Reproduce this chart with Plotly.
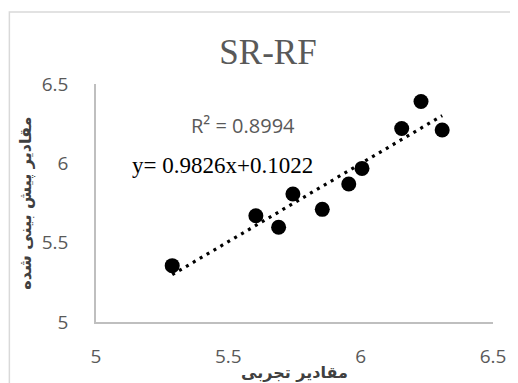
import plotly.graph_objects as go

# Data
observed = [5.288, 5.604, 5.690, 5.744, 5.855, 5.955, 6.005, 6.155, 6.228, 6.308]
predicted = [5.355, 5.670, 5.597, 5.807, 5.710, 5.870, 5.968, 6.220, 6.390, 6.210]
slope = 0.9826
intercept = 0.1022
r2_label = "R² = 0.8994"
eq_label = "y= 0.9826x+0.1022"
title_text = "SR-RF"
x_title = "مقادیر تجربی"
y_title = "مقادیر پیش بینی شده"
tick_vals = [5, 5.5, 6, 6.5]
tick_text = ["5", "5.5", "6", "6.5"]

trend_x = [min(observed), max(observed)]
trend_y = [slope * v + intercept for v in trend_x]

# page body has an 8px margin, so the figure is laid out 8px smaller
W, H = 510, 375
L, T, R, B = 88, 76, 21, 61
PW, PH = W - L - R, H - T - B  # 401 x 238


def px(xp):  # page x -> paper
    return (xp - 8 - L) / PW


def py(yp):  # page y -> paper
    return (H - B - (yp - 8)) / PH


fig = go.Figure()
fig.add_trace(go.Scatter(
    x=trend_x, y=trend_y, mode="lines",
    line=dict(color="black", width=3.2, dash="3px,5px"),
    hoverinfo="skip", showlegend=False,
))
fig.add_trace(go.Scatter(
    x=observed, y=predicted, mode="markers",
    marker=dict(color="black", size=15),
    showlegend=False,
))

axis_common = dict(
    range=[5, 6.5], tickvals=tick_vals, ticktext=tick_text,
    showgrid=False, zeroline=False, showline=True,
    linecolor="#bfbfbf", linewidth=1.5, ticks="",
    tickfont=dict(family="Open Sans, Liberation Sans, sans-serif", size=19, color="#595959"),
)
fig.update_xaxes(**axis_common, ticklabelstandoff=16)
fig.update_yaxes(**axis_common, ticklabelstandoff=22)

fig.update_layout(
    width=W, height=H,
    margin=dict(l=L, r=R, t=T, b=B),
    paper_bgcolor="white", plot_bgcolor="white",
    title=dict(text=title_text, x=(268 - 8) / W, xanchor="center", y=1 - (52 - 8) / H, yanchor="middle",
               font=dict(family="Liberation Serif, Times New Roman, serif", size=35, color="#595959")),
    shapes=[dict(type="rect", xref="paper", yref="paper", x0=px(8.5), x1=2,
                 y0=-1, y1=py(12), line=dict(color="#d9d9d9", width=1.5),
                 fillcolor="rgba(0,0,0,0)", layer="below")],
    annotations=[
        dict(text=r2_label, xref="paper", yref="paper", x=px(244), y=py(125),
             showarrow=False, xanchor="center", yanchor="middle",
             font=dict(family="Open Sans, Liberation Sans, sans-serif", size=20, color="#595959")),
        dict(text=eq_label, xref="paper", yref="paper", x=px(224), y=py(165),
             showarrow=False, xanchor="center", yanchor="middle",
             font=dict(family="Liberation Serif, Times New Roman, serif", size=23, color="black")),
        dict(text="<b>" + x_title + "</b>", xref="paper", yref="paper", x=px(297),
             y=py(372), showarrow=False, xanchor="center", yanchor="middle",
             font=dict(family="DejaVu Sans", size=16, color="#404040")),
        dict(text="<b>" + y_title + "</b>", xref="paper", yref="paper", x=px(25),
             y=py(203), showarrow=False, xanchor="center", yanchor="middle", textangle=-90,
             font=dict(family="DejaVu Sans", size=16, color="#404040")),
    ],
)

fig.write_html("out.html")
